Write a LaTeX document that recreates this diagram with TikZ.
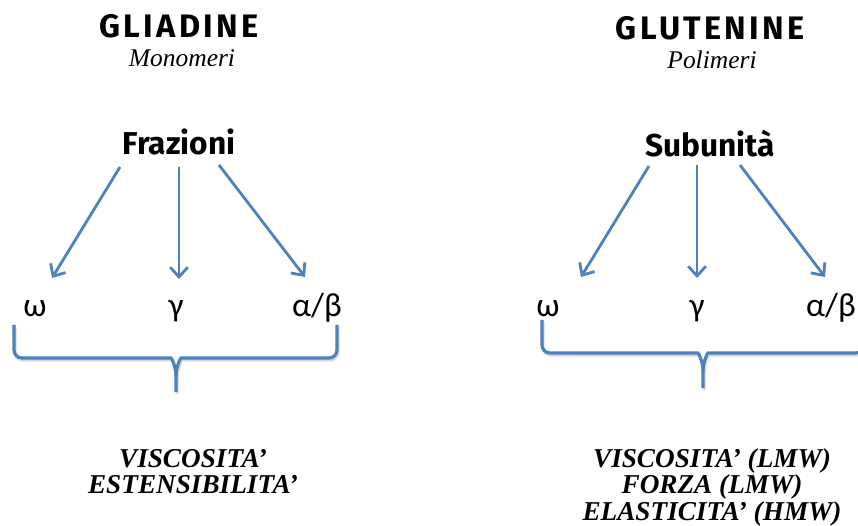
\documentclass[tikz,border=0pt]{standalone}
\usepackage{fontspec}
\setmainfont{Carlito}
\newfontfamily\titlefont{Fira Sans}[LetterSpace=10]
\newfontfamily\headfont{Fira Sans}
\newfontfamily\handfont{Liberation Serif}
\usetikzlibrary{arrows.meta,positioning,calc}
\usepackage{xcolor}
\definecolor{officeblue}{RGB}{79,129,189}

\begin{document}
\begin{tikzpicture}[
    x=0.02cm, y=-0.02cm,
    title/.style={
        anchor=base, inner sep=0pt,
        font=\titlefont\bfseries\fontsize{18.5}{20}\selectfont
    },
    subtitle/.style={
        anchor=base, inner sep=0pt,
        font=\handfont\itshape\fontsize{14.5}{16}\selectfont
    },
    head/.style={
        anchor=base, inner sep=0pt,
        font=\headfont\bfseries\fontsize{18}{20}\selectfont
    },
    greek/.style={
        anchor=base, inner sep=0pt, font=\fontsize{19}{21}\selectfont
    },
    prop/.style={
        anchor=base, inner sep=0pt,
        font=\handfont\bfseries\itshape\fontsize{15.5}{16}\selectfont
    },
    arrow/.style={
        -{Straight Barb[length=5.5pt,width=10pt]}, line width=1.6pt, officeblue
    },
    brace/.style={
        line width=1.8pt, officeblue
    },
    braceshadow/.style={
        line width=1.8pt, gray!30, shift={(1,2)}
    }
]
\clip (0,0) rectangle (858,526);

% Gliadine side
\node[title] (glia) at (179,38) {GLIADINE};
\node[subtitle] (mono) at (182,67) {Monomeri};
\node[head] (fraz) at (179,155) {Frazioni};

\node[greek] (omegaL) at (35,317) {ω};
\node[greek] (gammaL) at (176,317) {γ};
\node[greek] (alphaL) at (317,317) {α/β};

\draw[arrow] ($(fraz.base)+(-59,12)$) -- ($(omegaL.base)+(17,-39)$);
\draw[arrow] ($(fraz.base)+(0,12)$) -- ($(gammaL.base)+(3,-38)$);
\draw[arrow] ($(fraz.base)+(40,10)$) -- ($(alphaL.base)+(-12,-40)$);

% brace
\foreach \sty in {braceshadow,brace}{
  \draw[\sty] (14,325) [rounded corners=0.16cm] |- (163,358) [sharp corners]
      to[out=0,in=90] (176,376) -- (176,392);
  \draw[\sty] (337,325) [rounded corners=0.16cm] |- (189,358) [sharp corners]
      to[out=180,in=90] (176,376);
}

\node[prop] (propL1) at (193,467) {VISCOSITA’};
\node[prop] (propL2) at (193,493) {ESTENSIBILITA’};

% Glutenine side
\node[title] (glut) at (710,40) {GLUTENINE};
\node[subtitle] (poli) at (712,69) {Polimeri};
\node[head] (sub) at (710,157) {Subunità};

\node[greek] (omegaR) at (548,317) {ω};
\node[greek] (gammaR) at (697,317) {γ};
\node[greek] (alphaR) at (831,317) {α/β};

\draw[arrow] ($(sub.base)+(-61,9)$) -- ($(omegaR.base)+(33,-40)$);
\draw[arrow] ($(sub.base)+(-13,8)$) -- ($(gammaR.base)+(0,-39)$);
\draw[arrow] ($(sub.base)+(30,8)$) -- ($(alphaR.base)+(-6,-40)$);

% brace (runs past the right edge)
\foreach \sty in {braceshadow,brace}{
  \draw[\sty] (542,320) [rounded corners=0.16cm] |- (690,353) [sharp corners]
      to[out=0,in=90] (703,371) -- (703,388);
  \draw[\sty] (864,320) [rounded corners=0.16cm] |- (716,353) [sharp corners]
      to[out=180,in=90] (703,371);
}

\node[prop] (propR1) at (712,467) {VISCOSITA’ (LMW)};
\node[prop] (propR2) at (712,493) {FORZA (LMW)};
\node[prop] (propR3) at (712,520) {ELASTICITA’ (HMW)};

\end{tikzpicture}
\end{document}
